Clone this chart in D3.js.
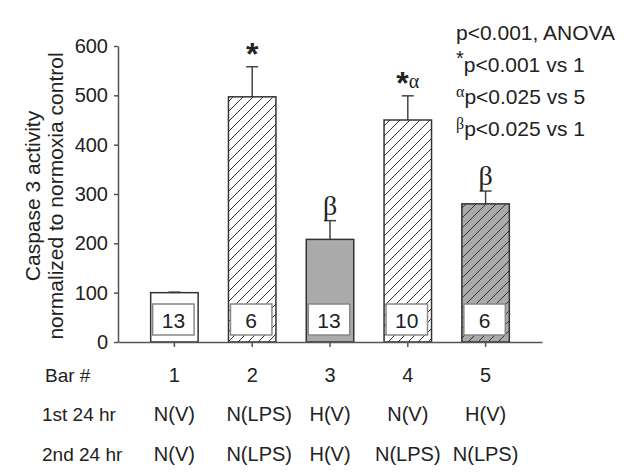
<!DOCTYPE html>
<html lang="en">
<head>
    <meta charset="UTF-8">
    <title>Caspase 3 activity</title>
    <script src="https://d3js.org/d3.v7.min.js"></script>
    <style>
        body {
            margin: 0;
            padding: 0;
            background: white;
            font-family: "Liberation Sans", Arial, sans-serif;
        }
        .axis path, .axis line {
            stroke: #555;
            stroke-width: 1.5px;
        }
        .axis text {
            font-size: 20px;
            fill: #222;
        }
        .bar {
            stroke: #333;
            stroke-width: 1.5px;
        }
        .nbox {
            fill: white;
            stroke: #888;
            stroke-width: 1.5px;
        }
        .err {
            stroke: #444;
            stroke-width: 1.5px;
        }
        .lbl {
            font-size: 19px;
            fill: #222;
        }
    </style>
</head>
<body>
    <script>
        const width = 633, height = 473;

        // data
        const bars = ["1", "2", "3", "4", "5"];
        const means = [100, 497, 208, 450, 280];
        const errors = [1, 61, 38, 49, 26];
        const counts = ["13", "6", "13", "10", "6"];
        const fills = ["white", "hatch", "gray", "hatch", "hatchgray"];
        const marks = ["", "*", "β", "*", "β"];
        const markSup = ["", "", "", "α", ""];
        const firstDay = ["N(V)", "N(LPS)", "H(V)", "N(V)", "H(V)"];
        const secondDay = ["N(V)", "N(LPS)", "H(V)", "N(LPS)", "N(LPS)"];
        const yTicks = [0, 100, 200, 300, 400, 500, 600];
        const notes = [
            { sup: "", text: "p<0.001, ANOVA" },
            { sup: "*", text: "p<0.001 vs 1" },
            { sup: "α", text: "p<0.025 vs 5" },
            { sup: "β", text: "p<0.025 vs 1" }
        ];

        const svg = d3.select("body").append("svg")
            .attr("width", width)
            .attr("height", height);

        const x = d3.scaleBand()
            .domain(bars)
            .range([118, 542])
            .paddingInner(0.39)
            .paddingOuter(0.42);

        const y = d3.scaleLinear()
            .domain([0, 600])
            .range([342, 46]);

        // hatch patterns
        const defs = svg.append("defs");
        function hatch(id, bg) {
            const p = defs.append("pattern")
                .attr("id", id)
                .attr("patternUnits", "userSpaceOnUse")
                .attr("width", 10)
                .attr("height", 10);
            p.append("rect").attr("width", 10).attr("height", 10).attr("fill", bg);
            p.append("path")
                .attr("d", "M-1,11 L11,-1 M-3,3 L3,-3 M7,13 L13,7")
                .attr("stroke", "#333")
                .attr("stroke-width", 1);
        }
        hatch("hatch", "white");
        hatch("hatchgray", "#aaaaaa");

        const fillOf = f => f === "hatch" ? "url(#hatch)"
            : f === "hatchgray" ? "url(#hatchgray)"
            : f === "gray" ? "#aaaaaa" : "white";

        const data = bars.map((b, i) => ({
            bar: b, mean: means[i], err: errors[i], n: counts[i],
            fill: fills[i], mark: marks[i], sup: markSup[i]
        }));

        // error bars
        svg.selectAll(".err-line")
            .data(data)
            .enter().append("line")
            .attr("class", "err")
            .attr("x1", d => x(d.bar) + x.bandwidth() / 2)
            .attr("x2", d => x(d.bar) + x.bandwidth() / 2)
            .attr("y1", d => y(d.mean))
            .attr("y2", d => y(d.mean + d.err));

        svg.selectAll(".err-cap")
            .data(data)
            .enter().append("line")
            .attr("class", "err")
            .attr("x1", d => x(d.bar) + x.bandwidth() / 2 - 6)
            .attr("x2", d => x(d.bar) + x.bandwidth() / 2 + 6)
            .attr("y1", d => y(d.mean + d.err))
            .attr("y2", d => y(d.mean + d.err));

        // bars
        svg.selectAll(".bar")
            .data(data)
            .enter().append("rect")
            .attr("class", "bar")
            .attr("x", d => x(d.bar))
            .attr("y", d => y(d.mean))
            .attr("width", x.bandwidth())
            .attr("height", d => y(0) - y(d.mean))
            .attr("fill", d => fillOf(d.fill));

        // n boxes
        svg.selectAll(".nbox")
            .data(data)
            .enter().append("rect")
            .attr("class", "nbox")
            .attr("x", d => x(d.bar) + 2)
            .attr("y", y(0) - 38)
            .attr("width", x.bandwidth() - 6)
            .attr("height", 31);

        svg.selectAll(".ntext")
            .data(data)
            .enter().append("text")
            .attr("class", "lbl")
            .attr("x", d => x(d.bar) + x.bandwidth() / 2 - 1)
            .attr("y", y(0) - 14)
            .attr("text-anchor", "middle")
            .style("font-size", "21px")
            .text(d => d.n);

        // significance marks above bars
        const mk = svg.selectAll(".mark")
            .data(data.filter(d => d.mark))
            .enter().append("text")
            .attr("x", d => x(d.bar) + x.bandwidth() / 2)
            .attr("y", d => y(d.mean + d.err) - (d.mark === "*" ? 2 : 6))
            .attr("text-anchor", "middle")
            .attr("fill", "#222");
        mk.append("tspan")
            .style("font-size", d => d.mark === "*" ? "32px" : "28px")
            .style("font-family", d => d.mark === "β" ? "'Liberation Serif', serif" : null)
            .style("font-weight", d => d.mark === "*" ? "bold" : null)
            .text(d => d.mark);
        mk.filter(d => d.sup).append("tspan")
            .style("font-size", "20px")
            .style("font-family", "'Liberation Serif', serif")
            .attr("dy", -6)
            .text(d => d.sup);

        // axes
        svg.append("g")
            .attr("class", "axis")
            .attr("transform", "translate(118,0)")
            .call(d3.axisLeft(y).tickValues(yTicks).tickSize(4).tickSizeOuter(0).tickPadding(6));

        svg.append("g")
            .attr("class", "axis")
            .attr("transform", `translate(0,${y(0)})`)
            .call(d3.axisBottom(x).tickSize(5).tickSizeOuter(0).tickFormat(""));

        // y label
        const yl = svg.append("text")
            .attr("class", "lbl")
            .attr("transform", "translate(0,196) rotate(-90)")
            .attr("text-anchor", "middle")
            .style("font-size", "21px");
        yl.append("tspan").attr("x", 0).attr("y", 40).text("Caspase 3 activity");
        yl.append("tspan").attr("x", 0).attr("y", 63).text("normalized to normoxia control");

        // table rows under the axis
        const rows = [
            { head: "Bar #", vals: bars, y: 382 },
            { head: "1st 24 hr", vals: firstDay, y: 421 },
            { head: "2nd 24 hr", vals: secondDay, y: 461 }
        ];
        rows.forEach(r => {
            svg.append("text")
                .attr("class", "lbl")
                .attr("x", r.head === "Bar #" ? 45 : 42)
                .attr("y", r.y)
                .text(r.head);
            svg.selectAll(null)
                .data(r.vals)
                .enter().append("text")
                .attr("class", "lbl")
                .attr("x", (d, i) => x(bars[i]) + x.bandwidth() / 2 + (d === "N(LPS)" && i === 1 ? 7 : 0))
                .attr("y", r.y)
                .attr("text-anchor", "middle")
                .style("font-size", "20px")
                .text(d => d);
        });

        // notes top right
        notes.forEach((n, i) => {
            const t = svg.append("text")
                .attr("class", "lbl")
                .attr("x", 456)
                .attr("y", 40 + i * 32)
                .style("font-size", "21px");
            if (n.sup) {
                t.append("tspan")
                    .style("font-size", n.sup === "*" ? "20px" : "16px")
                    .style("font-family", n.sup === "*" ? null : "'Liberation Serif', serif")
                    .attr("dy", -7)
                    .text(n.sup);
                t.append("tspan").attr("dy", 7).text(n.text);
            } else {
                t.text(n.text);
            }
        });
    </script>
</body>
</html>
